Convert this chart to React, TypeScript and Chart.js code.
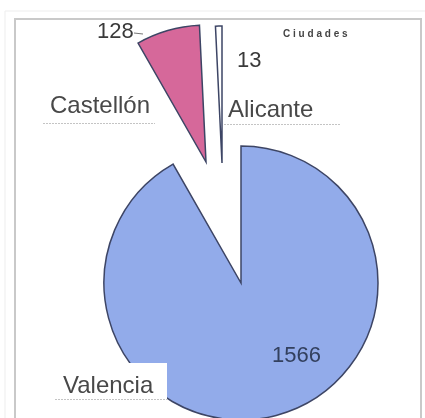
import { useEffect, useRef } from "react";
import { Chart, registerables } from "chart.js";

Chart.register(...registerables);

const categories = ["Valencia", "Castellón", "Alicante"];
const values = [1566, 128, 13];
const sliceColors = ["#92abea", "#d6689a", "#ffffff"];
// explode offsets per slice (dx, dy in px)
const explodeOffsets = [
  [0, 0],
  [-35, -121],
  [-19, -120],
];
const legendTitle = "Ciudades";

const FONT = "'Liberation Sans', Arial, sans-serif";

// text layout (left x, baseline y) for category names and values
const nameLayout = [
  { x: 63, y: 393 },
  { x: 50, y: 113 },
  { x: 228, y: 117 },
];
const valueLayout = [
  { x: 272, y: 362 },
  { x: 97, y: 38 },
  { x: 237, y: 67 },
];

const explodePlugin = {
  id: "explodeSlices",
  beforeDatasetDraw(chart: any, args: any) {
    const ctx = chart.ctx as CanvasRenderingContext2D;
    args.meta.data.forEach((arc: any, i: number) => {
      const [dx, dy] = explodeOffsets[i] || [0, 0];
      ctx.save();
      ctx.translate(dx, dy);
      arc.draw(ctx);
      ctx.restore();
    });
    return false;
  },
};

const decorPlugin = {
  id: "decor",
  beforeDraw(chart: any) {
    const ctx = chart.ctx as CanvasRenderingContext2D;
    ctx.save();
    ctx.fillStyle = "#ffffff";
    ctx.fillRect(0, 0, chart.width, chart.height);
    // outer faint frame
    ctx.strokeStyle = "#ededed";
    ctx.lineWidth = 1;
    ctx.beginPath();
    ctx.moveTo(5, 418);
    ctx.lineTo(5, 11);
    ctx.lineTo(425, 11);
    ctx.stroke();
    // frame
    ctx.strokeStyle = "#c9c9c9";
    ctx.lineWidth = 2;
    ctx.beginPath();
    ctx.moveTo(15, 418);
    ctx.lineTo(15, 19);
    ctx.lineTo(421, 19);
    ctx.lineTo(421, 418);
    ctx.stroke();
    ctx.restore();
  },
  afterDraw(chart: any) {
    const ctx = chart.ctx as CanvasRenderingContext2D;
    ctx.save();
    // white box behind Valencia label
    ctx.fillStyle = "#ffffff";
    ctx.fillRect(60, 363, 107, 38);
    // faint dotted underlines
    ctx.strokeStyle = "#c4c4c4";
    ctx.lineWidth = 1;
    ctx.setLineDash([2, 1]);
    const underlines = [
      [55, 399, 167],
      [43, 123, 155],
      [224, 124, 340],
    ];
    underlines.forEach(([x1, y, x2]) => {
      ctx.beginPath();
      ctx.moveTo(x1, y + 0.5);
      ctx.lineTo(x2, y + 0.5);
      ctx.stroke();
    });
    ctx.setLineDash([]);
    // leader line for 128
    ctx.strokeStyle = "#777777";
    ctx.beginPath();
    ctx.moveTo(134, 33);
    ctx.lineTo(143, 34);
    ctx.stroke();

    ctx.textBaseline = "alphabetic";
    ctx.textAlign = "left";
    // names
    ctx.fillStyle = "#484848";
    ctx.font = `24px ${FONT}`;
    categories.forEach((c, i) => {
      ctx.fillText(c, nameLayout[i].x, nameLayout[i].y);
    });
    // values
    ctx.font = `22px ${FONT}`;
    values.forEach((v, i) => {
      ctx.fillStyle = i === 0 ? "#33405e" : "#3a3a3a";
      ctx.fillText(String(v), valueLayout[i].x, valueLayout[i].y);
    });
    // legend title
    ctx.fillStyle = "#444444";
    ctx.font = `bold 10px ${FONT}`;
    (ctx as any).letterSpacing = "2.8px";
    ctx.fillText(legendTitle, 283, 37);
    ctx.restore();
  },
};

export default function App() {
  const ref = useRef<HTMLCanvasElement | null>(null);
  useEffect(() => {
    if (!ref.current) return;
    const chart = new Chart(ref.current, {
      type: "pie",
      data: {
        labels: categories,
        datasets: [
          {
            data: values,
            backgroundColor: sliceColors,
            borderColor: "#3d4565",
            borderWidth: 1.5,
            borderJoinStyle: "miter",
            clip: false,
          } as any,
        ],
      },
      options: {
        animation: false,
        responsive: true,
        maintainAspectRatio: false,
        radius: 137,
        layout: { padding: { left: 57, right: 0, top: 148, bottom: 0 } },
        plugins: {
          legend: { display: false },
          tooltip: { enabled: false },
          title: { display: false },
        },
        events: [],
      } as any,
      plugins: [explodePlugin, decorPlugin],
    });
    return () => chart.destroy();
  }, []);
  return (
    <div style={{ position: "absolute", left: 0, top: 0, width: 425, height: 418 }}>
      <canvas ref={ref} />
    </div>
  );
}
